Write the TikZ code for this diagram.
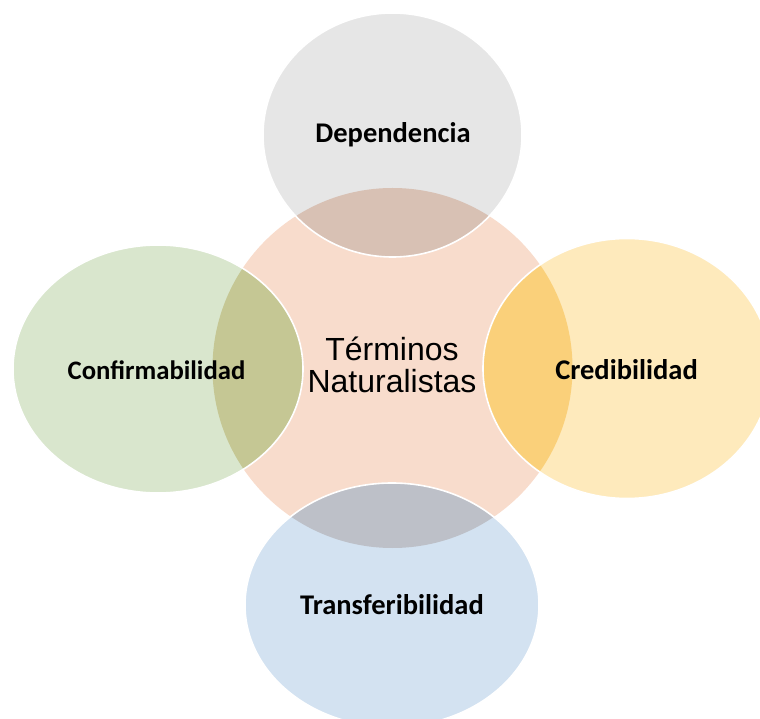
\documentclass[tikz,border=0pt]{standalone}
\usepackage{fontspec}
\setmainfont{Liberation Sans}
\newfontfamily\lblfont{Carlito}
\definecolor{peach}{HTML}{F8DCCC}
\definecolor{grayc}{HTML}{E6E6E6}
\definecolor{grayov}{HTML}{D8C1B4}
\definecolor{greenc}{HTML}{D9E6CD}
\definecolor{greenov}{HTML}{C5C794}
\definecolor{yellowc}{HTML}{FEEABC}
\definecolor{yellowov}{HTML}{FAD07A}
\definecolor{bluec}{HTML}{D3E2F1}
\definecolor{blueov}{HTML}{BDC0C8}
\tikzset{
  outl/.style={draw=white, line width=1.6pt},
  lbl/.style={font=\lblfont\bfseries\fontsize{28.5}{32}\selectfont, text=black, inner sep=0pt},
  lblsmall/.style={lbl, font=\lblfont\bfseries\fontsize{26.7}{30}\selectfont},
  ctr/.style={font=\fontsize{32}{32}\selectfont, text=black, align=center, inner sep=0pt}
}
\newcommand{\centerpath}{(392.5,350) circle[radius=180]}
\begin{document}
\begin{tikzpicture}[x=1pt,y=1pt]
\useasboundingbox (0,0) rectangle (760,718);
\clip (0,0) rectangle (760,718);
% center circle
\fill[peach] \centerpath;
% gray top
\fill[grayc] (392.5,583) ellipse[x radius=129.5, y radius=122];
\begin{scope}\clip (392.5,583) ellipse[x radius=129.5, y radius=122];
\fill[grayov] \centerpath;\end{scope}
\draw[outl] (392.5,583) ellipse[x radius=129.5, y radius=122];
% green left
\fill[greenc] (158,349) ellipse[x radius=145, y radius=124];
\begin{scope}\clip (158,349) ellipse[x radius=145, y radius=124];
\fill[greenov] \centerpath;\end{scope}
\draw[outl] (158,349) ellipse[x radius=145, y radius=124];
% yellow right
\fill[yellowc] (627,349.5) ellipse[x radius=144, y radius=130];
\begin{scope}\clip (627,349.5) ellipse[x radius=144, y radius=130];
\fill[yellowov] \centerpath;\end{scope}
\draw[outl] (627,349.5) ellipse[x radius=144, y radius=130];
% blue bottom
\fill[bluec] (392,113) ellipse[x radius=147, y radius=122];
\begin{scope}\clip (392,113) ellipse[x radius=147, y radius=122];
\fill[blueov] \centerpath;\end{scope}
\draw[outl] (392,113) ellipse[x radius=147, y radius=122];
% labels
\node[ctr] (center) at (392,353) {Términos\\Naturalistas};
\node[lbl] (dep) at (393,583) {Dependencia};
\node[lblsmall] (conf) at (156.5,348) {Confirmabilidad};
\node[lbl] (cred) at (626.5,348) {Credibilidad};
\node[lbl] (trans) at (392,113) {Transferibilidad};
\end{tikzpicture}
\end{document}
